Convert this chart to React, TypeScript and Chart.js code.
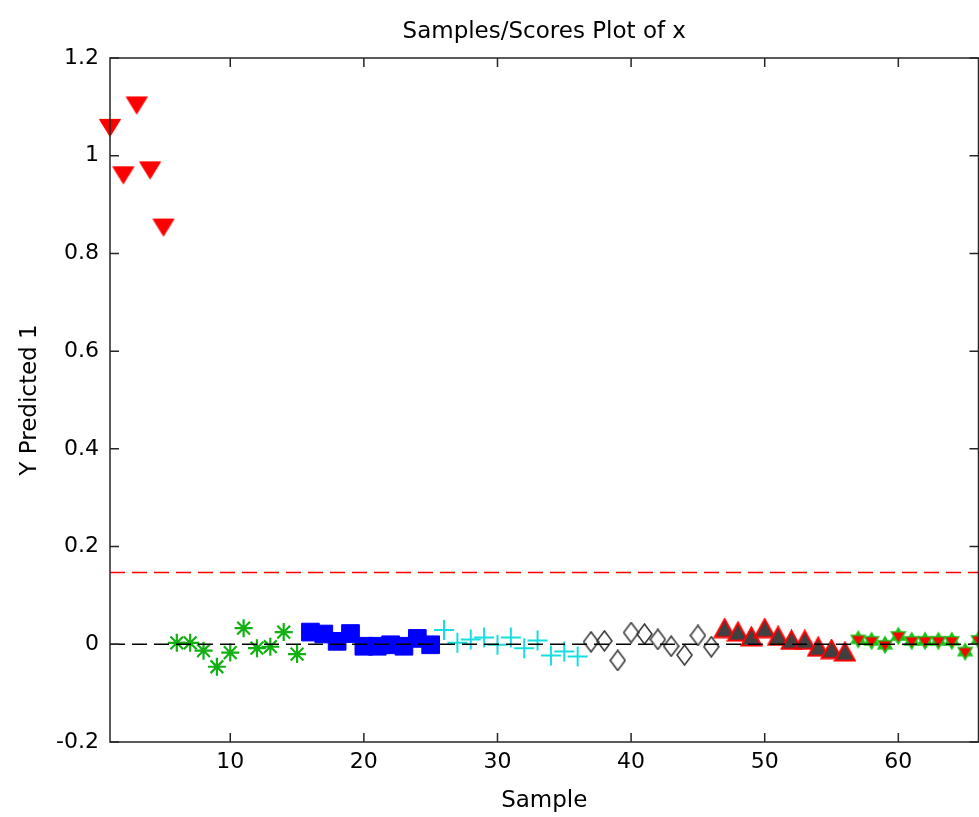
import React, { useEffect, useRef } from 'react';
import { Chart, registerables } from 'chart.js';

Chart.register(...registerables);

// Sample numbers and predicted values, one pair of arrays per class
const classASamples = [1, 2, 3, 4, 5];
const classAValues = [1.057, 0.96, 1.103, 0.97, 0.853];

const classBSamples = [6, 7, 8, 9, 10, 11, 12, 13, 14, 15];
const classBValues = [0.003, 0.003, -0.013, -0.046, -0.017, 0.033, -0.008, -0.005, 0.025, -0.02];

const classCSamples = [16, 17, 18, 19, 20, 21, 22, 23, 24, 25];
const classCValues = [0.025, 0.021, 0.006, 0.022, -0.004, -0.004, -0.001, -0.004, 0.012, -0.001];

const classDSamples = [26, 27, 28, 29, 30, 31, 32, 33, 34, 35, 36];
const classDValues = [0.029, 0.003, 0.01, 0.014, -0.001, 0.014, -0.008, 0.008, -0.023, -0.015, -0.025];

const classESamples = [37, 38, 39, 40, 41, 42, 43, 44, 45, 46];
const classEValues = [0.005, 0.007, -0.033, 0.024, 0.021, 0.01, -0.004, -0.022, 0.018, -0.005];

const classFSamples = [47, 48, 49, 50, 51, 52, 53, 54, 55, 56];
const classFValues = [0.033, 0.026, 0.016, 0.033, 0.017, 0.009, 0.009, -0.005, -0.01, -0.015];

const classGSamples = [57, 58, 59, 60, 61, 62, 63, 64, 65, 66];
const classGValues = [0.01, 0.007, -0.001, 0.017, 0.007, 0.007, 0.007, 0.007, -0.015, 0.009];

const sampleRange = [1, 66];
const valueRange = [-0.2, 1.2];
const xTicks = [10, 20, 30, 40, 50, 60];
const yTicks = [-0.2, 0, 0.2, 0.4, 0.6, 0.8, 1, 1.2];
const limitValue = 0.147;
const baselineValue = 0;

const FONT = 'DejaVu Sans';
const WIDTH = 979;
const HEIGHT = 817;
const PLOT_RIGHT = 978;

function toPoints(xs: number[], ys: number[]) {
  return xs.map((x, i) => ({ x, y: ys[i] }));
}

function makeCanvas(w: number, h: number, draw: (ctx: CanvasRenderingContext2D) => void) {
  const c = document.createElement('canvas');
  c.width = w;
  c.height = h;
  const ctx = c.getContext('2d')!;
  draw(ctx);
  return c;
}

function triangleDown() {
  const w = 24, h = 20;
  return makeCanvas(w, h, (ctx) => {
    ctx.beginPath();
    ctx.moveTo(1.5, 1.5);
    ctx.lineTo(w - 1.5, 1.5);
    ctx.lineTo(w / 2, h - 1.5);
    ctx.closePath();
    ctx.fillStyle = '#ff0000';
    ctx.fill();
    ctx.strokeStyle = '#ff0000';
    ctx.lineWidth = 1;
    ctx.stroke();
  });
}

function triangleUp() {
  const w = 23, h = 21;
  return makeCanvas(w, h, (ctx) => {
    ctx.beginPath();
    ctx.moveTo(w / 2, 1.5);
    ctx.lineTo(w - 1.5, h - 1.5);
    ctx.lineTo(1.5, h - 1.5);
    ctx.closePath();
    ctx.fillStyle = '#404040';
    ctx.fill();
    ctx.strokeStyle = '#ff0000';
    ctx.lineWidth = 2;
    ctx.stroke();
  });
}

function diamond() {
  const w = 17, h = 22;
  return makeCanvas(w, h, (ctx) => {
    ctx.beginPath();
    ctx.moveTo(w / 2, 1);
    ctx.lineTo(w - 1, h / 2);
    ctx.lineTo(w / 2, h - 1);
    ctx.lineTo(1, h / 2);
    ctx.closePath();
    ctx.strokeStyle = '#333333';
    ctx.lineWidth = 1.5;
    ctx.stroke();
  });
}

function hexagram() {
  const s = 22;
  return makeCanvas(s, s, (ctx) => {
    const cx = s / 2, cy = s / 2, R = 9.5, r = R / Math.sqrt(3);
    ctx.beginPath();
    for (let i = 0; i < 12; i++) {
      const a = (Math.PI / 6) * i;
      const rad = i % 2 === 0 ? R : r;
      const px = cx + rad * Math.sin(a);
      const py = cy - rad * Math.cos(a);
      if (i === 0) ctx.moveTo(px, py);
      else ctx.lineTo(px, py);
    }
    ctx.closePath();
    ctx.fillStyle = '#16c416';
    ctx.fill();
    // red inner triangle pointing down
    ctx.beginPath();
    ctx.moveTo(cx - R * 0.62, cy - R * 0.36);
    ctx.lineTo(cx + R * 0.62, cy - R * 0.36);
    ctx.lineTo(cx, cy + R * 0.62);
    ctx.closePath();
    ctx.fillStyle = '#ff0000';
    ctx.fill();
  });
}

// Box around the plot area with inward-pointing tick marks on all four sides
const axesFrame = {
  id: 'axesFrame',
  afterDatasetsDraw(chart: any) {
    const { ctx, chartArea } = chart;
    const { left, right, top, bottom } = chartArea;
    const xs = chart.scales.x;
    const ys = chart.scales.y;
    const len = 9;
    ctx.save();
    ctx.strokeStyle = '#262626';
    ctx.lineWidth = 1.5;
    ctx.strokeRect(left, top, right - left, bottom - top);
    ctx.beginPath();
    xTicks.forEach((v) => {
      const px = xs.getPixelForValue(v);
      ctx.moveTo(px, bottom);
      ctx.lineTo(px, bottom - len);
      ctx.moveTo(px, top);
      ctx.lineTo(px, top + len);
    });
    yTicks.forEach((v) => {
      const py = ys.getPixelForValue(v);
      ctx.moveTo(left, py);
      ctx.lineTo(left + len, py);
      ctx.moveTo(right, py);
      ctx.lineTo(right - len, py);
    });
    ctx.stroke();
    ctx.restore();
  },
};

function buildConfig(padRight: number): any {
  return {
    type: 'scatter',
    data: {
      datasets: [
        {
          type: 'line',
          data: [
            { x: sampleRange[0], y: baselineValue },
            { x: sampleRange[1], y: baselineValue },
          ],
          borderColor: '#000000',
          borderWidth: 1.5,
          borderDash: [15, 7],
          pointRadius: 0,
          order: 0,
        },
        {
          type: 'line',
          data: [
            { x: sampleRange[0], y: limitValue },
            { x: sampleRange[1], y: limitValue },
          ],
          borderColor: '#ff0000',
          borderWidth: 1.5,
          borderDash: [15, 7],
          pointRadius: 0,
          order: 0,
        },
        { data: toPoints(classGSamples, classGValues), pointStyle: hexagram(), pointRadius: 6, order: 1 },
        { data: toPoints(classFSamples, classFValues), pointStyle: triangleUp(), pointRadius: 6, order: 2 },
        { data: toPoints(classESamples, classEValues), pointStyle: diamond(), pointRadius: 6, order: 3 },
        {
          data: toPoints(classDSamples, classDValues),
          pointStyle: 'cross',
          pointRadius: 10,
          borderColor: '#16dede',
          borderWidth: 2,
          order: 4,
        },
        {
          data: toPoints(classCSamples, classCValues),
          pointStyle: 'rect',
          pointRadius: 12.5,
          backgroundColor: '#0000ff',
          borderColor: '#0000ff',
          borderWidth: 1,
          order: 5,
        },
        {
          data: toPoints(classBSamples, classBValues),
          pointStyle: 'star',
          pointRadius: 9,
          borderColor: '#12b012',
          borderWidth: 2.2,
          order: 6,
        },
        { data: toPoints(classASamples, classAValues), pointStyle: triangleDown(), pointRadius: 6, order: 7 },
      ].map((d: any) => ({ clip: false, ...d })),
    },
    options: {
      responsive: false,
      animation: false,
      events: [],
      devicePixelRatio: 1,
      layout: { padding: { left: 0, right: padRight, top: 0, bottom: 0 } },
      plugins: {
        legend: { display: false },
        tooltip: { enabled: false },
        title: {
          display: true,
          fullSize: false,
          text: 'Samples/Scores Plot of x',
          color: '#000000',
          font: { family: FONT, size: 23, weight: 'normal' },
          padding: { top: 18, bottom: 12.4 },
        },
      },
      scales: {
        x: {
          type: 'linear',
          min: sampleRange[0],
          max: sampleRange[1],
          position: 'bottom',
          grid: { display: false, drawTicks: false },
          border: { display: false },
          afterBuildTicks: (scale: any) => {
            scale.ticks = xTicks.map((v) => ({ value: v }));
          },
          afterFit: (scale: any) => {
            scale.height = 75;
            scale.paddingLeft = 0;
            scale.paddingRight = 0;
          },
          ticks: {
            color: '#000000',
            font: { family: FONT, size: 22 },
            padding: 7.5,
            maxRotation: 0,
            callback: (v: any) => String(v),
          },
          title: {
            display: true,
            text: 'Sample',
            color: '#000000',
            font: { family: FONT, size: 23 },
            padding: { top: 0, bottom: 2 },
          },
        },
        y: {
          type: 'linear',
          min: valueRange[0],
          max: valueRange[1],
          position: 'left',
          grid: { display: false, drawTicks: false },
          border: { display: false },
          afterBuildTicks: (scale: any) => {
            scale.ticks = yTicks.map((v) => ({ value: v }));
          },
          afterFit: (scale: any) => {
            scale.width = 110;
          },
          ticks: {
            color: '#000000',
            font: { family: FONT, size: 22 },
            padding: 11,
            callback: (v: any) => String(v),
          },
          title: {
            display: true,
            text: 'Y Predicted 1',
            color: '#000000',
            font: { family: FONT, size: 23 },
            padding: { top: 16, bottom: 0 },
          },
        },
      },
    },
    plugins: [axesFrame],
  };
}

export default function App() {
  const ref = useRef<HTMLCanvasElement | null>(null);

  useEffect(() => {
    const canvas = ref.current;
    if (!canvas) return;
    let padRight = WIDTH - PLOT_RIGHT;
    let chart: any = new Chart(canvas, buildConfig(padRight));
    // Nudge the right layout padding until the plot box ends at PLOT_RIGHT
    for (let i = 0; i < 3; i++) {
      const diff = PLOT_RIGHT - chart.chartArea.right;
      if (Math.abs(diff) < 0.5) break;
      padRight -= diff;
      chart.options.layout.padding.right = padRight;
      chart.update();
    }
    // If padding cannot absorb the gap, widen the drawing surface instead
    const gap = PLOT_RIGHT - chart.chartArea.right;
    if (gap > 0.5) {
      chart.destroy();
      canvas.width = Math.round(WIDTH + gap);
      canvas.height = HEIGHT;
      chart = new Chart(canvas, buildConfig(WIDTH - PLOT_RIGHT));
    }
    return () => chart.destroy();
  }, []);

  return (
    <div style={{ position: 'absolute', left: 0, top: 0, width: WIDTH, height: HEIGHT, overflow: 'hidden', background: '#ffffff' }}>
      <canvas ref={ref} width={WIDTH} height={HEIGHT} style={{ display: 'block' }} />
    </div>
  );
}
